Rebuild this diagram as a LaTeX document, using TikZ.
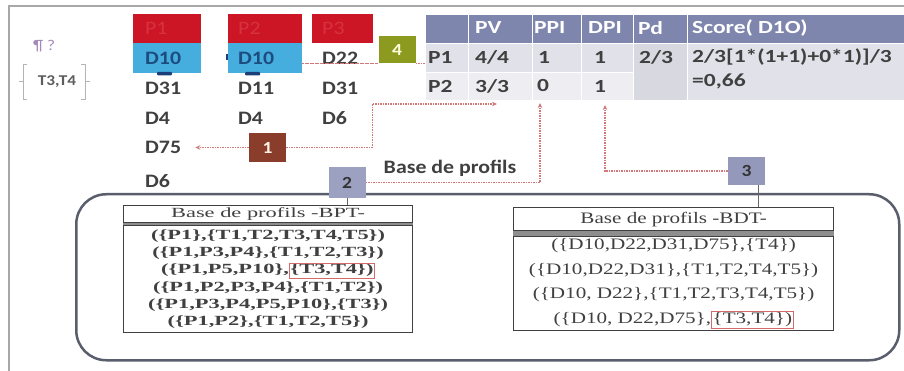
\documentclass[tikz,border=0pt]{standalone}
\usepackage{fontspec}
\setmainfont{Carlito}
\newfontfamily\labfont{Carlito}[FakeStretch=1.15]
\newfontfamily\tabfont{Carlito}[FakeStretch=1.27]
\newfontfamily\bptfont{Liberation Serif}[FakeStretch=1.6]
\newfontfamily\bdtfont{Liberation Serif}[FakeStretch=1.32]
\usetikzlibrary{arrows.meta}
\definecolor{cRed}{HTML}{CC1525}
\definecolor{cRedTxt}{HTML}{D8323F}
\definecolor{cBlue}{HTML}{45AEDF}
\definecolor{cBlueTxt}{HTML}{1D4C7E}
\definecolor{cMark}{HTML}{1D3F78}
\definecolor{cTxt}{HTML}{404040}
\definecolor{cHead}{HTML}{7F86AE}
\definecolor{cRow1}{HTML}{E1E2E9}
\definecolor{cRow2}{HTML}{EEEEF2}
\definecolor{cPd}{HTML}{D7D8E0}
\definecolor{cScore}{HTML}{E1E2E9}
\definecolor{cFour}{HTML}{8C9A1F}
\definecolor{cOne}{HTML}{8A3D2B}
\definecolor{cTwo}{HTML}{9CA1C2}
\definecolor{cThree}{HTML}{9498BA}
\definecolor{cConn}{HTML}{D27878}
\definecolor{cFrame}{HTML}{5A5E6C}
\definecolor{cPage}{HTML}{A8A8A8}
\definecolor{cSep}{HTML}{8E8E8E}
\definecolor{cTbl}{HTML}{404040}
\definecolor{cPil}{HTML}{A58AB8}
\definecolor{cBr}{HTML}{B4B4B4}
\definecolor{cHl}{HTML}{D46A6A}
\newcommand{\redframe}[1]{{\color{cHl}\fboxsep=0.8pt\fboxrule=0.7pt\fbox{\color{cTbl}#1}}}
\begin{document}
\begin{tikzpicture}[x=1pt,y=-1pt,
  colbox/.style={anchor=north west, inner ysep=0pt, minimum height=29.5pt, align=left, font=\labfont\bfseries\fontsize{19}{20}\selectfont},
  dl/.style={anchor=west, inner sep=0pt, text=cTxt, font=\labfont\bfseries\fontsize{19}{20}\selectfont},
  cell/.style={anchor=north west, inner sep=0pt, draw=white, line width=1pt},
  ht/.style={anchor=west, inner sep=0pt, text=white, font=\tabfont\bfseries\fontsize{18.5}{20}\selectfont},
  bt/.style={anchor=west, inner sep=0pt, text=cTxt, font=\tabfont\bfseries\fontsize{18.5}{20}\selectfont},
  numbox/.style={minimum width=37pt, minimum height=28pt, inner sep=0pt, font=\labfont\bfseries\fontsize{17}{18}\selectfont},
  conn/.style={draw=cConn, line width=1.1pt, dash pattern=on 1.6pt off 0.9pt},
  arrowend/.style={-{Stealth[length=5pt,width=4.5pt]}},
  tbox/.style={anchor=north west, draw=cTbl, line width=1.2pt, inner sep=0pt, align=center, text=cTbl},
  thin/.style={draw=cTbl!80, line width=0.8pt}]
\useasboundingbox (0,0) rectangle (904,371);
% page frame
\draw[cPage, line width=1.5pt] (9,371) -- (9,6) -- (904,6);
% top-left note
\node[anchor=west, inner sep=0pt, text=cPil, font=\labfont\fontsize{15}{16}\selectfont] (para) at (33,46) {¶ ?};
\node[inner sep=0pt, text=cTxt!85, font=\labfont\bfseries\fontsize{15}{16}\selectfont] (tt) at (57,82) {T3,T4};
\draw[cBr, line width=1pt] (27,65) -- (23,65) -- (23,100) -- (27,100);
\draw[cBr, line width=1pt] (19,82) -- (23,82);
\draw[cBr, line width=1pt] (81,65) -- (85,65) -- (85,100) -- (81,100);
\draw[cBr, line width=1pt] (85,82) -- (90,82);
% column boxes
\node[colbox, fill=cRed, text=cRedTxt, font=\labfont\fontsize{19}{20}\selectfont, minimum width=68pt, inner xsep=12pt, text width=44pt] (p1) at (133,13.5) {P1};
\node[colbox, fill=cBlue, text=cBlueTxt, minimum width=68pt, inner xsep=12pt, text width=44pt] (d10a) at (133,43) {D10};
\node[colbox, fill=cRed, text=cRedTxt, font=\labfont\fontsize{19}{20}\selectfont, minimum width=74pt, inner xsep=10pt, text width=54pt] (p2) at (228,13.5) {P2};
\node[colbox, fill=cBlue, text=cBlueTxt, minimum width=74pt, inner xsep=10pt, text width=54pt] (d10b) at (228,43) {D10};
\node[colbox, fill=cRed, text=cRedTxt, font=\labfont\fontsize{19}{20}\selectfont, minimum width=61pt, inner xsep=10pt, text width=41pt] (p3) at (312,13.5) {P3};
\fill[cMark, rounded corners=1pt] (157,72) rectangle (172,75.5);
\fill[cMark, rounded corners=1pt] (245,72) rectangle (260,75.5);
\fill[cMark] (226,54) rectangle (228,60);
% column labels
\node[dl] (c1r2) at (145,88) {D31};
\node[dl] (c1r3) at (145,118) {D4};
\node[dl] (d75) at (145,147) {D75};
\node[dl] (c1r5) at (145,181) {D6};
\node[dl] (c2r2) at (238,88) {D11};
\node[dl] (c2r3) at (238,118) {D4};
\node[dl] (c3r1) at (322,58) {D22};
\node[dl] (c3r2) at (322,88) {D31};
\node[dl] (c3r3) at (322,118) {D6};
% table cells
\node[cell, fill=cHead, minimum width=43pt, minimum height=29pt] (h0) at (425,14) {};
\node[cell, fill=cHead, minimum width=64pt, minimum height=29pt] (h1) at (468,14) {};
\node[cell, fill=cHead, minimum width=49pt, minimum height=29pt] (h2) at (532,14) {};
\node[cell, fill=cHead, minimum width=52pt, minimum height=29pt] (h3) at (581,14) {};
\node[cell, fill=cHead, minimum width=54pt, minimum height=29pt] (h4) at (633,14) {};
\node[cell, fill=cHead, minimum width=217pt, minimum height=29pt] (h5) at (687,14) {};
\node[cell, fill=cRow1, minimum width=43pt, minimum height=29pt] (r10) at (425,43) {};
\node[cell, fill=cRow1, minimum width=64pt, minimum height=29pt] (r11) at (468,43) {};
\node[cell, fill=cRow1, minimum width=49pt, minimum height=29pt] (r12) at (532,43) {};
\node[cell, fill=cRow1, minimum width=52pt, minimum height=29pt] (r13) at (581,43) {};
\node[cell, fill=cRow2, minimum width=43pt, minimum height=28pt] (r20) at (425,72) {};
\node[cell, fill=cRow2, minimum width=64pt, minimum height=28pt] (r21) at (468,72) {};
\node[cell, fill=cRow2, minimum width=49pt, minimum height=28pt] (r22) at (532,72) {};
\node[cell, fill=cRow2, minimum width=52pt, minimum height=28pt] (r23) at (581,72) {};
\node[cell, fill=cPd, minimum width=54pt, minimum height=57pt] (pdc) at (633,43) {};
\node[cell, fill=cScore, minimum width=217pt, minimum height=57pt] (scc) at (687,43) {};
% table texts
\node[ht] (hPV) at (475,28) {PV};
\node[ht] (hPPI) at (534,28) {PPI};
\node[ht] (hDPI) at (588,28) {DPI};
\node[ht] (hPd) at (638,28) {Pd};
\node[ht] (hScore) at (692,28) {Score( D1O)};
\node[bt] (tP1) at (428,57.5) {P1};
\node[bt] (tPV1) at (475,57.5) {4/4};
\node[bt] (tPPI1) at (538,57.5) {1};
\node[bt] (tDPI1) at (594,57.5) {1};
\node[bt] (tPd) at (639,57.5) {2/3};
\node[bt] (tSc1) at (692,57.5) {2/3[1*(1+1)+0*1)]/3};
\node[bt] (tP2) at (428,86) {P2};
\node[bt] (tPV2) at (475,86) {3/3};
\node[bt] (tPPI2) at (537,86) {0};
\node[bt] (tDPI2) at (594,86) {1};
\node[bt] (tSc2) at (692,81) {=0,66};
% big frame and profile bases
\node[anchor=north west, draw=cFrame, line width=2.5pt, rounded corners=30pt, minimum width=823pt, minimum height=166pt, inner sep=0pt] (bigbox) at (75,193) {};
\node[tbox, minimum width=289pt, minimum height=17pt, font=\bptfont\fontsize{14}{16}\selectfont] (bptT) at (123,205) {Base de profils -BPT-};
\node[tbox, minimum width=289pt, minimum height=107pt, font=\bptfont\bfseries\fontsize{14}{17.3}\selectfont] (bptB) at (123,225)
 {(\{P1\},\{T1,T2,T3,T4,T5\})\\(\{P1,P3,P4\},\{T1,T2,T3\})\\(\{P1,P5,P10\},\redframe{\{T3,T4\})}\\(\{P1,P2,P3,P4\},\{T1,T2\})\\(\{P1,P3,P4,P5,P10\},\{T3\})\\(\{P1,P2\},\{T1,T2,T5\})};
\fill[cSep] (bptT.south west) rectangle (bptB.north east);
\node[tbox, minimum width=320pt, minimum height=23pt, font=\bdtfont\fontsize{16}{18}\selectfont] (bdtT) at (513,207) {Base de profils -BDT-};
\node[tbox, minimum width=320pt, minimum height=94pt, font=\bdtfont\fontsize{16}{24.5}\selectfont] (bdtB) at (513,236)
 {(\{D10,D22,D31,D75\},\{T4\})\\(\{D10,D22,D31\},\{T1,T2,T4,T5\})\\(\{D10, D22\},\{T1,T2,T3,T4,T5\})\\(\{D10, D22,D75\},\redframe{\{T3,T4\})}};
\fill[cSep] (bdtT.south west) rectangle (bdtB.north east);
% number boxes
\node[numbox, fill=cFour, text=white!85!yellow, minimum height=27pt] (n4) at (397,49.5) {4};
\node[numbox, fill=cOne, text=white!90!orange, minimum height=29pt] (n1) at (267.5,147.5) {1};
\node[numbox, fill=cTwo, text=black!80, minimum height=31pt] (n2) at (347,182.5) {2};
\node[numbox, fill=cThree, text=black!80] (n3) at (746.5,171) {3};
\node[inner sep=0pt, text=cTxt, font=\labfont\bfseries\fontsize{19}{20}\selectfont] (baseprof) at (450,168) {Base de profils};
% connectors
\coordinate (a1) at (497,104);
\coordinate (a2) at (540,103);
\coordinate (a3) at (605,105);
\draw[conn] (d10b.east |- n4.south) -- (n4.south west);
\draw[conn] (n4.south east) -- (r10.west |- n4.south);
\draw[conn, arrowend, shorten >=14pt] (n1.west) -- (d75.east |- n1.west);
\draw[conn, arrowend] (n1.east) -- ++(86,0) |- (a1);
\draw[conn, arrowend] (n2.east) -| (a2);
\draw[conn, arrowend] (n3.west) -| (a3);
\draw[thin] (n2.south) -- (n2.south |- bptT.north);
\coordinate (n3b) at ([xshift=-7pt]n3.south east);
\draw[thin] (n3b) -- (n3b |- bdtT.north);
\end{tikzpicture}
\end{document}
